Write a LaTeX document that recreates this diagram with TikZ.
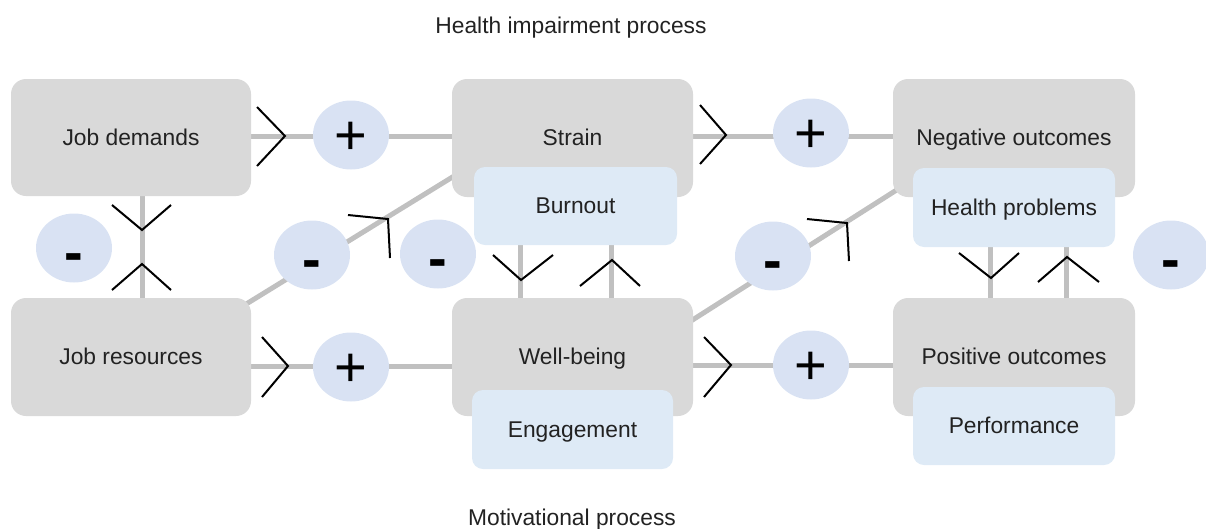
\documentclass[tikz,border=0pt]{standalone}
\usepackage{fontspec}
\setmainfont{Liberation Sans}
\usetikzlibrary{shapes.geometric,calc,backgrounds}
\definecolor{boxgray}{HTML}{D9D9D9}
\definecolor{boxblue}{HTML}{DEEAF6}
\definecolor{circblue}{HTML}{D9E2F3}
\definecolor{linegray}{HTML}{C0C0C0}
\definecolor{txt}{HTML}{222222}
\begin{document}
\begin{tikzpicture}[x=1pt,y=-1pt,
  graybox/.style={draw=none,fill=boxgray,rounded corners=15pt,inner sep=0pt,
    font=\fontsize{22.8}{27}\selectfont,text=txt,text height=20.6pt,text depth=4.8pt},
  bluebox/.style={draw=none,fill=boxblue,rounded corners=11pt,inner sep=0pt,
    font=\fontsize{22.8}{27}\selectfont,text=txt,text height=20.6pt,text depth=4.8pt},
  sign/.style={ellipse,draw=none,fill=circblue,minimum width=76pt,minimum height=69pt,
    inner sep=0pt,font=\fontsize{56}{60}\selectfont,text=black,
    text height=38.8pt,text depth=0pt},
  minus/.style={sign,font=\fontsize{56}{60}\selectfont\bfseries,text height=46pt},
  link/.style={draw=linegray,line width=5pt},
  chev/.style={draw=black,line width=2pt},
  title/.style={font=\fontsize{22.8}{27}\selectfont,text=txt,anchor=base,inner sep=0pt}]
\useasboundingbox (0,0) rectangle (1206,528);

% titles
\node[title] (t1) at (571,33) {Health impairment process};
\node[title] (t2) at (572,525) {Motivational process};

% boxes
\node[graybox,minimum width=240pt,minimum height=117pt] (jd) at (131,137.5) {Job demands};
\node[graybox,minimum width=240pt,minimum height=118pt] (jr) at (131,357) {Job resources};
\node[graybox,minimum width=241pt,minimum height=118pt] (strain) at (572.5,138) {Strain};
\node[bluebox,minimum width=203pt,minimum height=78pt] (burnout) at (575.5,206) {Burnout};
\node[graybox,minimum width=241pt,minimum height=118pt] (wb) at (572.5,357) {Well-being};
\node[bluebox,minimum width=201pt,minimum height=79pt] (eng) at (572.5,429.5) {Engagement};
\node[graybox,minimum width=242pt,minimum height=118pt] (neg) at (1014,138) {Negative outcomes};
\node[bluebox,minimum width=202pt,minimum height=79pt] (health) at (1014,207.5) {Health problems};
\node[graybox,minimum width=242pt,minimum height=118pt] (pos) at (1014,357) {Positive outcomes};
\node[bluebox,minimum width=202pt,minimum height=78pt] (perf) at (1014,426) {Performance};

% sign circles
\node[sign] (p1) at (351,135) {+};
\node[sign] (p2) at (811,133) {+};
\node[sign] (p3) at (351,367) {+};
\node[sign] (p4) at (811,365) {+};
\node[minus] (m1) at (74,248) {-};
\node[minus] (m2) at (312,255) {-};
\node[minus] (m3) at (438,254) {-};
\node[minus] (m4) at (773,256) {-};
\node[minus] (m5) at (1171,255) {-};

% connectors (behind)
\begin{pgfonlayer}{background}
\draw[link] ($(jd.east)+(0,-1.5)$) -- ($(strain.west)+(0,-2)$);
\draw[link] ($(strain.east)+(0,-2)$) -- ($(neg.west)+(0,-2)$);
\draw[link] ($(jr.east)+(0,9)$) -- ($(wb.west)+(0,9)$);
\draw[link] ($(wb.east)+(0,8)$) -- ($(pos.west)+(0,8)$);
\draw[link] ($(jd.south)+(11,0)$) -- ($(jr.north)+(11,0)$);
\draw[link] ($(jr.north east)+(-16,13)$) -- ($(strain.south west)+(28,-37)$);
\draw[link] ($(wb.north east)+(-13,30)$) -- ($(neg.south west)+(27,-22)$);
\draw[link] ($(burnout.south west)+(47,0)$) -- ($(wb.north west)+(69,0)$);
\draw[link] ($(burnout.south west)+(138,0)$) -- ($(wb.north west)+(160,0)$);
\draw[link] ($(health.south west)+(78,0)$) -- ($(pos.north west)+(98,0)$);
\draw[link] ($(health.south west)+(154,0)$) -- ($(pos.north west)+(174,0)$);
\end{pgfonlayer}

% chevrons
\draw[chev] (257,107) -- (285,136) -- (257,166);
\draw[chev] (262,337) -- (288,366) -- (262,397);
\draw[chev] (700,105) -- (726,135) -- (700,164);
\draw[chev] (704,337) -- (731,365) -- (704,397);
\draw[chev] (112,205) -- (142,230) -- (171,205);
\draw[chev] (112,290) -- (142,264) -- (171,290);
\draw[chev] (348,215) -- (388,219) -- (390,258);
\draw[chev] (807,219) -- (847,223) -- (849,261);
\draw[chev] (493,255) -- (521,280) -- (553,255);
\draw[chev] (580,286) -- (612,260) -- (640,286);
\draw[chev] (959,253) -- (991,278) -- (1019,253);
\draw[chev] (1038,282) -- (1067,257) -- (1099,282);
\end{tikzpicture}
\end{document}
